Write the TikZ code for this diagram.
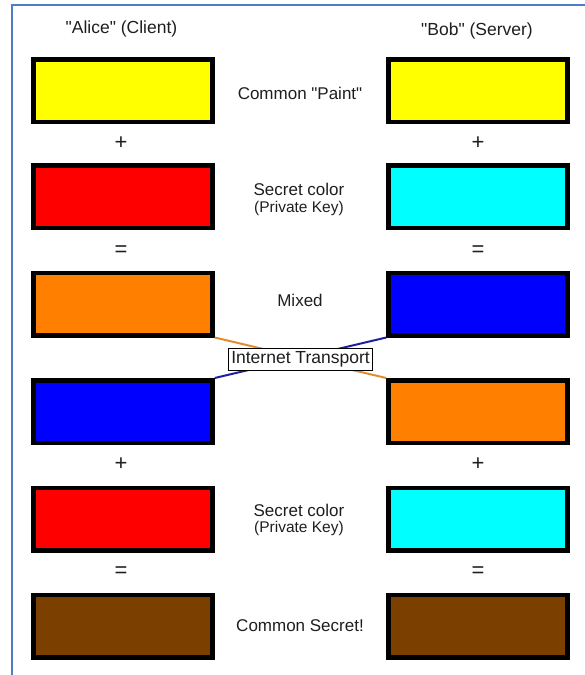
\documentclass[tikz,border=0pt]{standalone}
\usepackage{fontspec}
\setmainfont{Liberation Sans}[Ligatures=TeXOff]
\definecolor{frameblue}{RGB}{80,125,200}
\definecolor{txt}{RGB}{30,30,30}
\definecolor{cyellow}{RGB}{255,255,0}
\definecolor{cred}{RGB}{255,0,0}
\definecolor{corange}{RGB}{255,128,0}
\definecolor{cblue}{RGB}{0,0,255}
\definecolor{ccyan}{RGB}{0,255,255}
\definecolor{cbrown}{RGB}{123,63,0}
\definecolor{lorange}{RGB}{225,140,45}
\definecolor{lblue}{RGB}{30,30,165}
\begin{document}
\begin{tikzpicture}[x=1pt,y=-1pt,
  paint/.style={draw=black,line width=4.5pt,minimum width=179pt,minimum height=62.5pt,inner sep=0pt},
  lab/.style={text=txt,font=\fontsize{17}{20}\selectfont,inner sep=0pt},
  head/.style={text=txt,font=\fontsize{17.5}{20}\selectfont,inner sep=0pt},
  small/.style={text=txt,font=\fontsize{15.5}{18}\selectfont,inner sep=0pt},
  op/.style={text=txt,font=\fontsize{22}{24}\selectfont,inner sep=0pt}]
\useasboundingbox (0,0) rectangle (585,675);
\draw[frameblue,line width=2pt] (12,680) -- (12,5) -- (590,5);
% headers
\node[head] (ha) at (121.5,29) {"Alice" (Client)};
\node[head] (hb) at (477,31) {"Bob" (Server)};
% left column
\node[paint,fill=cyellow] (a1) at (123,90.5) {};
\node[paint,fill=cred] (a2) at (123,196.5) {};
\node[paint,fill=corange] (a3) at (123,304) {};
\node[paint,fill=cblue] (a4) at (123,411.5) {};
\node[paint,fill=cred] (a5) at (123,519) {};
\node[paint,fill=cbrown] (a6) at (123,626) {};
% right column
\node[paint,fill=cyellow] (b1) at (478,90.5) {};
\node[paint,fill=ccyan] (b2) at (478,196.5) {};
\node[paint,fill=cblue] (b3) at (478,304) {};
\node[paint,fill=corange] (b4) at (478,411.5) {};
\node[paint,fill=ccyan] (b5) at (478,519) {};
\node[paint,fill=cbrown] (b6) at (478,626) {};
% operators
\node[op] (pa1) at (121,143) {+};
\node[op] (ea1) at (121,251) {=};
\node[op] (pa2) at (121,464) {+};
\node[op] (ea2) at (121,572) {=};
\node[op] (pb1) at (478,143) {+};
\node[op] (eb1) at (478,251) {=};
\node[op] (pb2) at (478,464) {+};
\node[op] (eb2) at (478,572) {=};
% center labels
\node[lab] (l1) at (300,93) {Common "Paint"};
\node[lab] (l2a) at (299,189) {Secret color};
\node[small] (l2b) at (299,208) {(Private Key)};
\node[lab] (l3) at (300,300) {Mixed};
\node[lab] (l5a) at (299,510) {Secret color};
\node[small] (l5b) at (299,528) {(Private Key)};
\node[lab] (l6) at (300,626) {Common Secret!};
% transport lines
\draw[lorange,line width=2pt] (a3.south east) -- (b4.north west);
\draw[lblue,line width=2pt] (a4.north east) -- (b3.south west);
\node[lab,font=\fontsize{17.5}{20}\selectfont,draw=black,line width=0.8pt,fill=white,inner xsep=2.5pt,inner ysep=3pt] (it) at (300.5,359.5) {Internet Transport};
\end{tikzpicture}
\end{document}
